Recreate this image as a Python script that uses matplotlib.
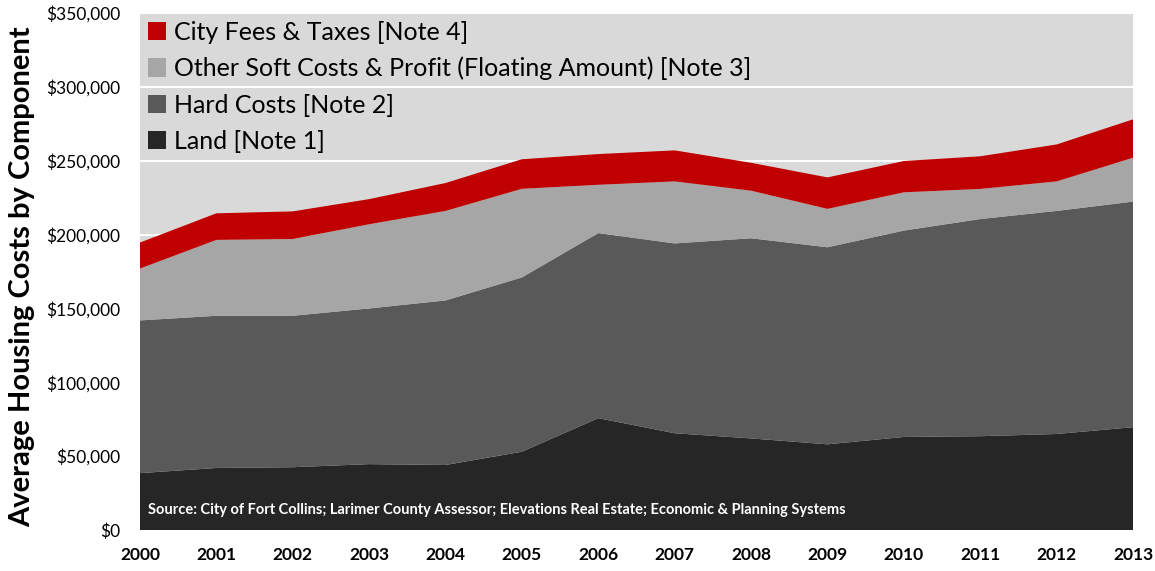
import numpy as np
import matplotlib.pyplot as plt
from matplotlib.ticker import FuncFormatter

# values (dollars, in thousands)
years = list(range(2000, 2014))
land = [38.5, 42.0, 42.5, 44.6, 44.0, 53.0, 75.7, 65.5, 62.0, 58.0, 63.0, 63.5, 65.0, 69.6]
hard = [103.4, 103.0, 102.5, 105.4, 111.4, 118.0, 125.3, 128.5, 135.5, 133.4, 139.7, 147.0, 151.0, 152.7]
soft = [35.1, 51.4, 52.0, 57.0, 60.6, 60.0, 32.7, 42.0, 32.2, 26.0, 25.9, 20.4, 20.0, 29.7]
fees = [17.6, 18.0, 18.7, 17.0, 18.9, 20.0, 20.8, 21.0, 18.9, 21.3, 21.2, 22.1, 25.0, 26.0]

labels = ['Land [Note 1]', 'Hard Costs [Note 2]',
          'Other Soft Costs & Profit (Floating Amount) [Note 3]', 'City Fees & Taxes [Note 4]']
colors = ['#262626', '#595959', '#a6a6a6', '#c00000']

plt.rcParams['font.family'] = ['Lato', 'DejaVu Sans']

fig = plt.figure(figsize=(11.55, 5.71), dpi=100)
ax = fig.add_axes([140 / 1155, 1 - 530 / 571, (1133 - 140) / 1155, (530 - 13) / 571])
ax.set_facecolor('#d9d9d9')

series = [np.array(s) * 1000 for s in (land, hard, soft, fees)]
ax.stackplot(years, *series, colors=colors, labels=labels, zorder=2, linewidth=0)

ax.set_xlim(2000, 2013)
ax.set_ylim(0, 350000)
ax.set_yticks(np.arange(0, 350001, 50000))
ax.set_xticks(years)
ax.yaxis.set_major_formatter(FuncFormatter(lambda v, p: '${:,.0f}'.format(v)))
ax.grid(axis='y', color='white', linewidth=1.5, zorder=1)
ax.set_axisbelow(True)
for s in ax.spines.values():
    s.set_visible(False)
ax.tick_params(axis='both', length=0)
ax.tick_params(axis='y', labelsize=12.5, pad=14)
ax.tick_params(axis='x', labelsize=12.5, pad=12)
for t in ax.get_xticklabels():
    t.set_fontweight('bold')

ax.set_ylabel('Average Housing Costs by Component', fontsize=21, fontweight='bold', labelpad=10)
ax.yaxis.set_label_coords(-0.106, 0.49)

# legend in reverse order (top series first)
h, l = ax.get_legend_handles_labels()
leg = ax.legend(h[::-1], l[::-1], loc='upper left', frameon=False, fontsize=18,
                handlelength=0.75, handleheight=0.75, handletextpad=0.3,
                labelspacing=0.53, borderpad=0.2, borderaxespad=0.1,
                bbox_to_anchor=(0.0, 1.0))

ax.text(0.008, 0.03, 'Source: City of Fort Collins; Larimer County Assessor; Elevations Real Estate; Economic & Planning Systems',
        transform=ax.transAxes, color='white', fontsize=10.5, fontweight='bold', zorder=5)

fig.savefig('out.png', dpi=100)
